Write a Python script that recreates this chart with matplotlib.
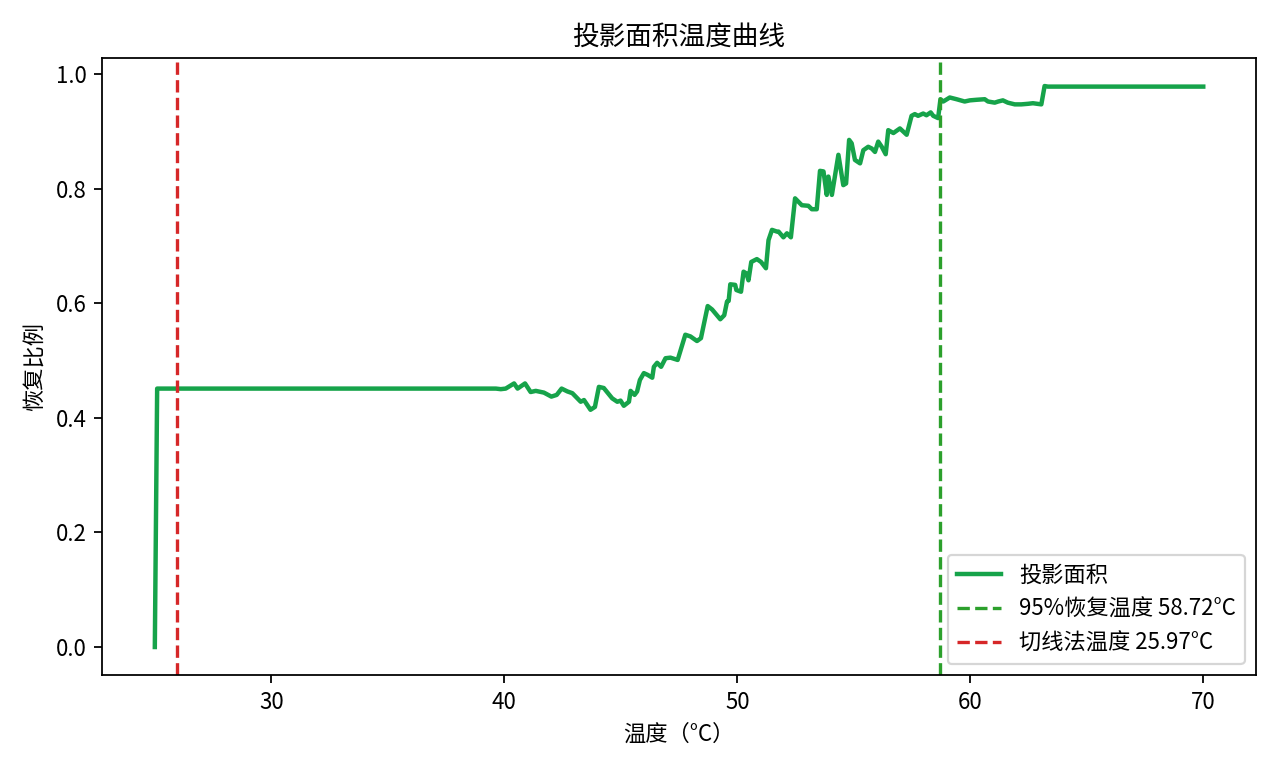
import matplotlib
matplotlib.use("Agg")
import matplotlib.pyplot as plt

plt.rcParams['font.family'] = ['Noto Sans CJK SC', 'DejaVu Sans']
plt.rcParams['axes.unicode_minus'] = False

# temperature (°C) and recovery ratio
temps = [25.0, 25.1, 39.42, 39.64, 39.85, 40.06, 40.42, 40.57, 40.89, 41.13,
         41.35, 41.70, 42.02, 42.25, 42.46, 42.71, 42.92, 43.28, 43.42, 43.70,
         43.89, 44.06, 44.27, 44.63, 44.85, 44.99, 45.13, 45.35, 45.42, 45.59,
         45.70, 45.82, 45.99, 46.15, 46.35, 46.42, 46.56, 46.73, 46.92, 47.13,
         47.44, 47.77, 47.99, 48.27, 48.44, 48.73, 48.92, 49.27, 49.44, 49.56,
         49.63, 49.70, 49.91, 49.96, 50.16, 50.27, 50.39, 50.48, 50.60, 50.84,
         51.02, 51.23, 51.34, 51.49, 51.70, 51.77, 51.98, 52.13, 52.30, 52.48,
         52.77, 53.05, 53.20, 53.41, 53.55, 53.70, 53.84, 53.91, 54.06, 54.34,
         54.55, 54.67, 54.80, 54.91, 55.05, 55.27, 55.41, 55.62, 55.77, 55.91,
         56.05, 56.20, 56.37, 56.48, 56.70, 56.98, 57.27, 57.48, 57.62, 57.76,
         57.98, 58.12, 58.30, 58.41, 58.62, 58.72, 58.84, 59.12, 59.41, 59.76,
         59.98, 60.27, 60.62, 60.76, 61.05, 61.20, 61.40, 61.61, 61.91, 62.19,
         62.48, 62.69, 63.05, 63.19, 63.33, 70.0]
ratio = [0.0, 0.451, 0.451, 0.451, 0.450, 0.451, 0.460, 0.451, 0.460, 0.445,
         0.447, 0.444, 0.437, 0.440, 0.451, 0.446, 0.443, 0.428, 0.431, 0.414,
         0.419, 0.454, 0.452, 0.434, 0.428, 0.430, 0.421, 0.428, 0.447, 0.440,
         0.446, 0.466, 0.478, 0.475, 0.470, 0.489, 0.496, 0.489, 0.504, 0.505,
         0.501, 0.545, 0.542, 0.534, 0.539, 0.595, 0.589, 0.572, 0.579, 0.603,
         0.604, 0.633, 0.632, 0.623, 0.620, 0.655, 0.652, 0.640, 0.672, 0.677,
         0.672, 0.661, 0.710, 0.728, 0.725, 0.725, 0.715, 0.722, 0.715, 0.783,
         0.771, 0.770, 0.764, 0.764, 0.831, 0.830, 0.789, 0.821, 0.789, 0.859,
         0.806, 0.809, 0.885, 0.879, 0.850, 0.844, 0.867, 0.873, 0.870, 0.864,
         0.882, 0.873, 0.860, 0.902, 0.897, 0.905, 0.894, 0.927, 0.930, 0.927,
         0.931, 0.928, 0.933, 0.927, 0.923, 0.956, 0.952, 0.959, 0.956, 0.952,
         0.954, 0.955, 0.956, 0.952, 0.950, 0.952, 0.954, 0.950, 0.947, 0.947,
         0.948, 0.949, 0.947, 0.979, 0.978, 0.978]

t_95 = 58.72
t_tangent = 25.97

fig, ax = plt.subplots(figsize=(8, 4.8), dpi=160)
fig.subplots_adjust(left=0.08, right=0.981, top=0.9245, bottom=0.121)

ax.plot(temps, ratio, color='#16a34a', linewidth=2, label='投影面积')
ax.axvline(t_95, color='tab:green', linestyle='--', linewidth=1.5,
           label=f'95%恢复温度 {t_95:.2f}°C')
ax.axvline(t_tangent, color='tab:red', linestyle='--', linewidth=1.5,
           label=f'切线法温度 {t_tangent:.2f}°C')

ax.set_title('投影面积温度曲线')
ax.set_xlabel('温度（°C）')
ax.set_ylabel('恢复比例')
ax.legend(loc='lower right')

plt.savefig('out.png')
